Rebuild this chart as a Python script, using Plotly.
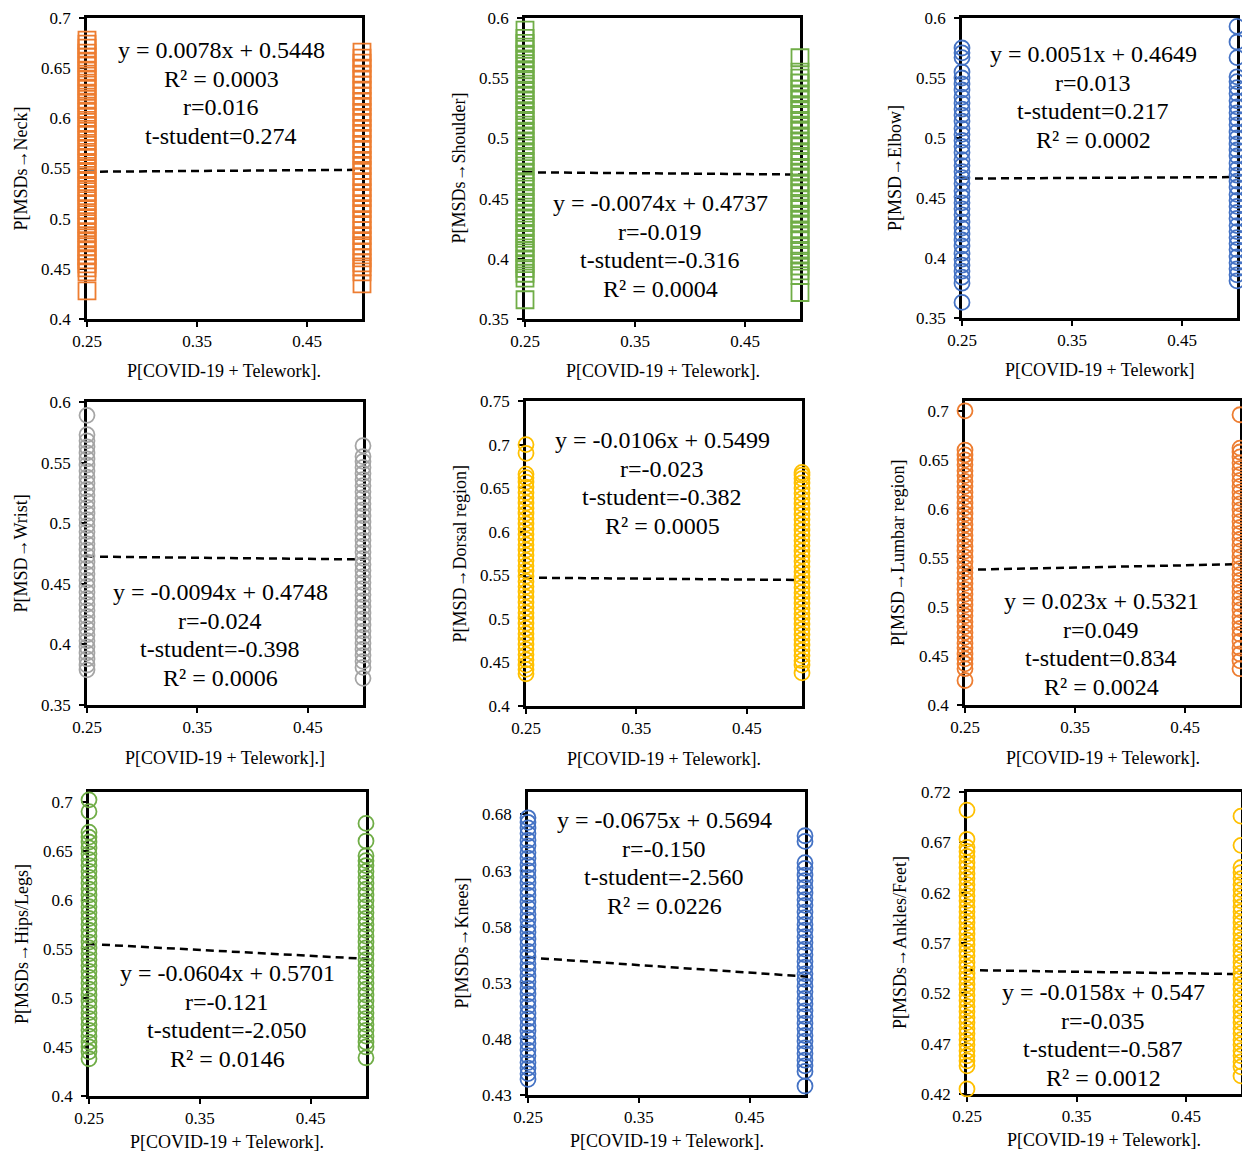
import plotly.graph_objects as go

W, H = 1250, 1160          # target screen size
OFF = 8                    # default page body margin
FW, FH = W - 2 * OFF, H - 2 * OFF

# ---------------- data ----------------
x_levels = [0.25, 0.5]

neck_25 = [0.428, 0.447, 0.451, 0.455, 0.459, 0.463, 0.468, 0.472, 0.477, 0.481, 0.486, 0.491, 0.495, 0.500,
           0.504, 0.509, 0.514, 0.518, 0.523, 0.527, 0.532, 0.537, 0.541, 0.546, 0.550, 0.555, 0.560, 0.564,
           0.569, 0.573, 0.578, 0.583, 0.587, 0.592, 0.596, 0.601, 0.606, 0.610, 0.615, 0.619, 0.624, 0.629,
           0.633, 0.638, 0.642, 0.647, 0.652, 0.656, 0.661, 0.665, 0.670, 0.674, 0.678]
neck_50 = [0.435, 0.447, 0.452, 0.456, 0.461, 0.467, 0.473, 0.478, 0.483, 0.488, 0.494, 0.499, 0.505, 0.510,
           0.515, 0.521, 0.526, 0.531, 0.537, 0.542, 0.548, 0.553, 0.558, 0.563, 0.569, 0.574, 0.580, 0.585,
           0.590, 0.596, 0.601, 0.606, 0.612, 0.617, 0.622, 0.628, 0.633, 0.639, 0.644, 0.650, 0.655, 0.660, 0.666]

shoulder_25 = [0.366, 0.384, 0.388, 0.392, 0.396, 0.400, 0.405, 0.409, 0.413, 0.417, 0.421, 0.426, 0.430, 0.434,
               0.438, 0.443, 0.447, 0.451, 0.455, 0.460, 0.464, 0.468, 0.472, 0.477, 0.481, 0.485, 0.489, 0.494,
               0.498, 0.502, 0.506, 0.511, 0.515, 0.519, 0.523, 0.528, 0.532, 0.536, 0.540, 0.545, 0.549, 0.553,
               0.557, 0.562, 0.566, 0.570, 0.574, 0.579, 0.583, 0.590]
shoulder_50 = [0.372, 0.386, 0.390, 0.394, 0.398, 0.403, 0.407, 0.411, 0.416, 0.420, 0.424, 0.429, 0.433, 0.437,
               0.442, 0.446, 0.450, 0.455, 0.459, 0.463, 0.468, 0.472, 0.476, 0.481, 0.485, 0.489, 0.494, 0.498,
               0.502, 0.507, 0.511, 0.515, 0.520, 0.524, 0.528, 0.533, 0.537, 0.541, 0.546, 0.550, 0.555, 0.567]

elbow_25 = [0.363, 0.379, 0.384, 0.389, 0.394, 0.399, 0.404, 0.410, 0.415, 0.420, 0.425, 0.430, 0.436, 0.441,
            0.446, 0.451, 0.456, 0.462, 0.467, 0.472, 0.477, 0.482, 0.488, 0.493, 0.498, 0.503, 0.508, 0.514,
            0.519, 0.524, 0.529, 0.534, 0.540, 0.545, 0.550, 0.555, 0.567, 0.571, 0.575]
elbow_50 = [0.381, 0.386, 0.391, 0.396, 0.401, 0.407, 0.412, 0.417, 0.422, 0.427, 0.433, 0.438, 0.443, 0.448,
            0.453, 0.459, 0.464, 0.469, 0.474, 0.479, 0.485, 0.490, 0.495, 0.500, 0.505, 0.511, 0.516, 0.521,
            0.526, 0.531, 0.537, 0.542, 0.547, 0.551, 0.567, 0.580, 0.593]

wrist_25 = [0.379, 0.383, 0.388, 0.393, 0.398, 0.403, 0.408, 0.413, 0.418, 0.423, 0.428, 0.433, 0.438, 0.443,
            0.448, 0.453, 0.458, 0.463, 0.468, 0.473, 0.478, 0.483, 0.488, 0.493, 0.498, 0.503, 0.508, 0.513,
            0.518, 0.523, 0.528, 0.533, 0.538, 0.543, 0.548, 0.553, 0.558, 0.563, 0.568, 0.573, 0.589]
wrist_50 = [0.372, 0.381, 0.386, 0.391, 0.396, 0.401, 0.406, 0.411, 0.416, 0.421, 0.426, 0.431, 0.436, 0.441,
            0.446, 0.451, 0.456, 0.461, 0.466, 0.471, 0.476, 0.481, 0.486, 0.491, 0.496, 0.501, 0.506, 0.511,
            0.516, 0.521, 0.526, 0.531, 0.536, 0.541, 0.546, 0.551, 0.555, 0.564]

dorsal_25 = [0.437, 0.442, 0.447, 0.453, 0.459, 0.465, 0.471, 0.477, 0.483, 0.489, 0.495, 0.501, 0.507, 0.513,
             0.519, 0.525, 0.531, 0.537, 0.543, 0.549, 0.555, 0.561, 0.567, 0.573, 0.579, 0.585, 0.591, 0.597,
             0.603, 0.609, 0.615, 0.621, 0.627, 0.633, 0.639, 0.645, 0.651, 0.657, 0.662, 0.666, 0.690, 0.700]
dorsal_50 = [0.438, 0.447, 0.452, 0.458, 0.464, 0.470, 0.476, 0.482, 0.488, 0.494, 0.500, 0.506, 0.512, 0.518,
             0.524, 0.530, 0.536, 0.542, 0.548, 0.554, 0.560, 0.566, 0.572, 0.578, 0.584, 0.590, 0.596, 0.602,
             0.608, 0.614, 0.620, 0.626, 0.632, 0.638, 0.644, 0.650, 0.656, 0.661, 0.665, 0.668]

lumbar_25 = [0.425, 0.437, 0.442, 0.447, 0.452, 0.458, 0.463, 0.469, 0.474, 0.480, 0.485, 0.491, 0.496, 0.502,
             0.507, 0.513, 0.518, 0.524, 0.529, 0.535, 0.540, 0.546, 0.551, 0.557, 0.562, 0.568, 0.573, 0.579,
             0.584, 0.590, 0.595, 0.601, 0.606, 0.612, 0.617, 0.623, 0.628, 0.634, 0.639, 0.645, 0.650, 0.655,
             0.660, 0.700]
lumbar_50 = [0.437, 0.445, 0.452, 0.458, 0.465, 0.472, 0.478, 0.484, 0.490, 0.497, 0.503, 0.509, 0.515, 0.521,
             0.527, 0.533, 0.539, 0.545, 0.551, 0.557, 0.563, 0.569, 0.575, 0.581, 0.587, 0.593, 0.599, 0.605,
             0.611, 0.617, 0.623, 0.629, 0.635, 0.641, 0.647, 0.653, 0.658, 0.662, 0.696]

hips_25 = [0.438, 0.445, 0.450, 0.455, 0.461, 0.467, 0.473, 0.479, 0.485, 0.491, 0.497, 0.503, 0.509, 0.515,
           0.521, 0.527, 0.533, 0.539, 0.545, 0.551, 0.557, 0.563, 0.569, 0.575, 0.581, 0.587, 0.593, 0.599,
           0.605, 0.611, 0.617, 0.623, 0.629, 0.635, 0.641, 0.647, 0.653, 0.659, 0.664, 0.669, 0.690, 0.702]
hips_50 = [0.439, 0.450, 0.455, 0.461, 0.467, 0.473, 0.479, 0.485, 0.491, 0.497, 0.503, 0.509, 0.515, 0.521,
           0.527, 0.533, 0.539, 0.545, 0.551, 0.557, 0.563, 0.569, 0.575, 0.581, 0.587, 0.593, 0.599, 0.605,
           0.611, 0.617, 0.623, 0.629, 0.635, 0.640, 0.645, 0.660, 0.678]

knees_25 = [0.444, 0.449, 0.454, 0.459, 0.465, 0.470, 0.476, 0.481, 0.487, 0.492, 0.498, 0.503, 0.509, 0.514,
            0.520, 0.525, 0.531, 0.536, 0.542, 0.547, 0.553, 0.558, 0.564, 0.569, 0.575, 0.580, 0.586, 0.591,
            0.597, 0.602, 0.608, 0.613, 0.619, 0.624, 0.630, 0.635, 0.641, 0.646, 0.652, 0.657, 0.663, 0.668,
            0.673, 0.677]
knees_50 = [0.438, 0.451, 0.456, 0.461, 0.467, 0.472, 0.478, 0.483, 0.489, 0.494, 0.500, 0.505, 0.511, 0.516,
            0.522, 0.527, 0.533, 0.538, 0.544, 0.549, 0.555, 0.560, 0.566, 0.571, 0.577, 0.582, 0.588, 0.593,
            0.599, 0.604, 0.610, 0.615, 0.621, 0.626, 0.632, 0.637, 0.656, 0.661]

ankles_25 = [0.425, 0.448, 0.453, 0.458, 0.463, 0.469, 0.474, 0.480, 0.485, 0.491, 0.496, 0.502, 0.507, 0.513,
             0.518, 0.524, 0.529, 0.535, 0.540, 0.546, 0.551, 0.557, 0.562, 0.568, 0.573, 0.579, 0.584, 0.590,
             0.595, 0.601, 0.606, 0.612, 0.617, 0.623, 0.628, 0.634, 0.639, 0.645, 0.650, 0.656, 0.661, 0.665,
             0.673, 0.702]
ankles_50 = [0.438, 0.447, 0.452, 0.458, 0.463, 0.469, 0.474, 0.480, 0.485, 0.491, 0.496, 0.502, 0.507, 0.513,
             0.518, 0.524, 0.529, 0.535, 0.540, 0.546, 0.551, 0.557, 0.562, 0.568, 0.573, 0.579, 0.584, 0.590,
             0.595, 0.601, 0.606, 0.612, 0.617, 0.623, 0.628, 0.634, 0.640, 0.645, 0.667, 0.696]

series_25 = [neck_25, shoulder_25, elbow_25, wrist_25, dorsal_25, lumbar_25, hips_25, knees_25, ankles_25]
series_50 = [neck_50, shoulder_50, elbow_50, wrist_50, dorsal_50, lumbar_50, hips_50, knees_50, ankles_50]

slopes = [0.0078, -0.0074, 0.0051, -0.0094, -0.0106, 0.023, -0.0604, -0.0675, -0.0158]
intercepts = [0.5448, 0.4737, 0.4649, 0.4748, 0.5499, 0.5321, 0.5701, 0.5694, 0.547]

stat_lines = [
    ["y = 0.0078x + 0.5448", "R² = 0.0003", "r=0.016", "t-student=0.274"],
    ["y = -0.0074x + 0.4737", "r=-0.019", "t-student=-0.316", "R² = 0.0004"],
    ["y = 0.0051x + 0.4649", "r=0.013", "t-student=0.217", "R² = 0.0002"],
    ["y = -0.0094x + 0.4748", "r=-0.024", "t-student=-0.398", "R² = 0.0006"],
    ["y = -0.0106x + 0.5499", "r=-0.023", "t-student=-0.382", "R² = 0.0005"],
    ["y = 0.023x + 0.5321", "r=0.049", "t-student=0.834", "R² = 0.0024"],
    ["y = -0.0604x + 0.5701", "r=-0.121", "t-student=-2.050", "R² = 0.0146"],
    ["y = -0.0675x + 0.5694", "r=-0.150", "t-student=-2.560", "R² = 0.0226"],
    ["y = -0.0158x + 0.547", "r=-0.035", "t-student=-0.587", "R² = 0.0012"],
]

y_titles = ["P[MSDs→Neck]", "P[MSDs→Shoulder]", "P[MSD→Elbow]", "P[MSD→Wrist]", "P[MSD→Dorsal region]",
            "P[MSD→Lumbar region]", "P[MSDs→Hips/Legs]", "P[MSDs→Knees]", "P[MSDs→Ankles/Feet]"]
x_titles = ["P[COVID-19 + Telework].", "P[COVID-19 + Telework].", "P[COVID-19 + Telework]",
            "P[COVID-19 + Telework].]", "P[COVID-19 + Telework].", "P[COVID-19 + Telework].",
            "P[COVID-19 + Telework].", "P[COVID-19 + Telework].", "P[COVID-19 + Telework]."]

y_ranges = [[0.4, 0.7], [0.35, 0.6], [0.35, 0.6], [0.35, 0.6], [0.4, 0.75],
            [0.4, 0.71], [0.4, 0.71], [0.43, 0.70], [0.42, 0.72]]
y_tick0 = [0.4, 0.35, 0.35, 0.35, 0.4, 0.4, 0.4, 0.43, 0.42]

# ---------------- styling ----------------
ORANGE, GREEN, BLUE, GRAY, YELLOW = "#ED7D31", "#70AD47", "#4472C4", "#A5A5A5", "#FFC000"
colors = [ORANGE, GREEN, BLUE, GRAY, YELLOW, ORANGE, GREEN, BLUE, YELLOW]
symbols = ["square-open", "square-open"] + ["circle-open"] * 7
msizes = [17, 17] + [15] * 7

# panel boxes in screen pixels: left, right, top, bottom
boxes = [(87, 362, 18, 319), (525, 800, 18, 319), (962, 1237, 18, 318),
         (87, 363, 402, 705), (526, 802, 401, 706), (965, 1240, 401, 705),
         (89, 366, 792, 1096), (528, 805, 792, 1095), (967, 1241, 792, 1094)]
# first stat line centre (screen pixels)
stat_pos = [(221, 50), (660, 203), (1093, 54), (220, 592), (662, 440),
            (1101, 601), (227, 973), (664, 820), (1103, 992)]
LINE_GAP = 28.7
XTITLE_GAP = [52, 52, 52, 53, 53, 53, 46, 46, 46]

FONT = "Liberation Serif"

def fx(p):
    return min(1.0, max(0.0, (p - OFF) / FW))

def fy(p):
    return min(1.0, max(0.0, 1 - (p - OFF) / FH))

fig = go.Figure()
annotations = []

for i in range(9):
    n = i + 1
    xa = "x" if n == 1 else f"x{n}"
    ya = "y" if n == 1 else f"y{n}"
    # trendline from equation
    tx = [x_levels[0], x_levels[1]]
    ty = [slopes[i] * v + intercepts[i] for v in tx]
    fig.add_trace(go.Scatter(x=tx, y=ty, mode="lines", xaxis=xa, yaxis=ya,
                             line=dict(color="black", width=2.5, dash="8px,5px"),
                             showlegend=False, hoverinfo="skip"))
    xs = [x_levels[0]] * len(series_25[i]) + [x_levels[1]] * len(series_50[i])
    ys = series_25[i] + series_50[i]
    fig.add_trace(go.Scatter(x=xs, y=ys, mode="markers", xaxis=xa, yaxis=ya, cliponaxis=False,
                             marker=dict(symbol=symbols[i], size=msizes[i], color=colors[i],
                                         line=dict(width=1.8, color=colors[i])),
                             showlegend=False))

    l, r, t, b = boxes[i]
    axis_common = dict(showgrid=False, zeroline=False, showline=True, linecolor="black", linewidth=2.5,
                       mirror=True, ticks="outside", ticklen=5, tickwidth=2, tickcolor="black",
                       layer="below traces", automargin=False, ticklabeloverflow="allow",
                       tickfont=dict(family=FONT, size=17, color="black"))
    xkey = "xaxis" if n == 1 else f"xaxis{n}"
    ykey = "yaxis" if n == 1 else f"yaxis{n}"
    fig.update_layout({
        xkey: dict(axis_common, domain=[fx(l), fx(r)], range=[0.25, 0.5], tick0=0.25, dtick=0.1,
                   anchor=ya, ticklabelstandoff=0),
        ykey: dict(axis_common, domain=[fy(b), fy(t)], range=y_ranges[i], tick0=y_tick0[i], dtick=0.05,
                   anchor=xa, ticklabelstandoff=5),
    })

    # stats text
    sx, sy = stat_pos[i]
    for k, line in enumerate(stat_lines[i]):
        annotations.append(dict(x=fx(sx), y=fy(sy + k * LINE_GAP), xref="paper", yref="paper",
                                text=line, showarrow=False, xanchor="center", yanchor="middle",
                                font=dict(family=FONT, size=24, color="black")))
    # axis titles
    annotations.append(dict(x=fx((l + r) / 2), y=fy(b + XTITLE_GAP[i]), xref="paper", yref="paper",
                            text=x_titles[i], showarrow=False, xanchor="center", yanchor="middle",
                            font=dict(family=FONT, size=18, color="black")))
    annotations.append(dict(x=fx(l - 67), y=fy((t + b) / 2), xref="paper", yref="paper",
                            text=y_titles[i], showarrow=False, xanchor="center", yanchor="middle",
                            textangle=-90, font=dict(family=FONT, size=18, color="black")))

fig.update_layout(template="none", width=FW, height=FH, margin=dict(l=0, r=0, t=0, b=0, pad=0),
                  font=dict(family=FONT, color="black"),
                  paper_bgcolor="white", plot_bgcolor="white", showlegend=False,
                  annotations=annotations)

fig.write_html("out.html")
